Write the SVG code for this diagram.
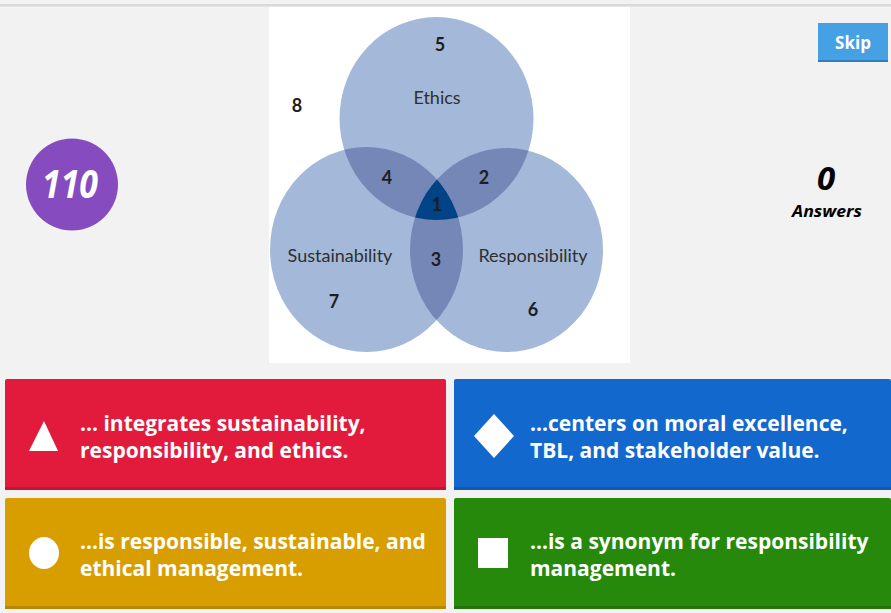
<svg xmlns="http://www.w3.org/2000/svg" width="891" height="613" viewBox="0 0 891 613">
<defs>
<style>
.num{font-family:"Lato","Open Sans",sans-serif;font-weight:bold;font-size:18px;fill:#1e1e1e;text-anchor:middle}
.lbl{font-family:"Lato","Open Sans",sans-serif;font-size:18px;fill:#2f2f2f;text-anchor:middle}
.ans{font-family:"Open Sans","Noto Sans",sans-serif;font-weight:bold;font-size:21px;fill:#fff}
.single{fill:#a4b9d9}
.pair{fill:#7587b6}
</style>
<clipPath id="cE"><ellipse cx="436.5" cy="118.5" rx="97" ry="101.5"/></clipPath>
<clipPath id="cS"><ellipse cx="366.5" cy="249.5" rx="96.5" ry="102.5"/></clipPath>
<clipPath id="cR"><ellipse cx="506.5" cy="250" rx="96.5" ry="102"/></clipPath>
</defs>
<rect width="891" height="613" fill="#f2f2f2"/>
<rect x="0" y="4" width="891" height="2.5" fill="#d9d9d9"/>
<rect x="269" y="7" width="361" height="356" fill="#ffffff"/>
<g id="venn">
<ellipse class="single" cx="436.5" cy="118.5" rx="97" ry="101.5"/>
<ellipse class="single" cx="366.5" cy="249.5" rx="96.5" ry="102.5"/>
<ellipse class="single" cx="506.5" cy="250" rx="96.5" ry="102"/>
<ellipse class="pair" cx="366.5" cy="249.5" rx="96.5" ry="102.5" clip-path="url(#cE)"/>
<ellipse class="pair" cx="506.5" cy="250" rx="96.5" ry="102" clip-path="url(#cE)"/>
<ellipse class="pair" cx="506.5" cy="250" rx="96.5" ry="102" clip-path="url(#cS)"/>
<g clip-path="url(#cE)"><ellipse cx="506.5" cy="250" rx="96.5" ry="102" fill="#004386" clip-path="url(#cS)"/></g>
</g>
<g id="venn-labels">
<text class="num" x="440" y="51">5</text>
<text class="num" x="297" y="112">8</text>
<text class="lbl" x="437" y="104">Ethics</text>
<text class="num" x="387" y="184">4</text>
<text class="num" x="484" y="184">2</text>
<text class="num" x="437" y="211">1</text>
<text class="lbl" x="340" y="262">Sustainability</text>
<text class="num" x="436" y="266">3</text>
<text class="lbl" x="533" y="262">Responsibility</text>
<text class="num" x="334" y="308">7</text>
<text class="num" x="533" y="316">6</text>
</g>
<g id="counter">
<circle cx="72" cy="184.5" r="46" fill="#864cbf"/>
<text x="70" y="198" font-family="'Noto Sans',sans-serif" font-weight="bold" font-style="italic" font-size="40" fill="#fff" text-anchor="middle" textLength="56" lengthAdjust="spacingAndGlyphs">110</text>
</g>
<g id="skip">
<rect x="818" y="23" width="70" height="39" fill="#46a0e4"/>
<rect x="818" y="60" width="70" height="2" fill="#2f7fbf"/>
<text x="853" y="49" font-family="'Open Sans',sans-serif" font-weight="bold" font-size="17" fill="#fff" text-anchor="middle">Skip</text>
</g>
<g id="answers-count">
<text x="826" y="190" font-family="'Noto Sans',sans-serif" font-weight="bold" font-style="italic" font-size="33" fill="#000" text-anchor="middle">0</text>
<text x="827" y="217" font-family="'Noto Sans',sans-serif" font-weight="bold" font-style="italic" font-size="16" fill="#000" text-anchor="middle" textLength="70" lengthAdjust="spacingAndGlyphs">Answers</text>
</g>
<g id="answer-red">
<rect x="5" y="379" width="441" height="111" rx="2" fill="#e21b3c"/>
<rect x="5" y="487" width="441" height="3" fill="#c01833"/>
<polygon points="44,421 58,451 29,451" fill="#fff"/>
<text class="ans" x="80" y="431">... integrates sustainability,</text>
<text class="ans" x="80" y="458">responsibility, and ethics.</text>
</g>
<g id="answer-blue">
<rect x="454" y="379" width="437" height="111" rx="2" fill="#1368ce"/>
<rect x="454" y="487" width="437" height="3" fill="#1059af"/>
<polygon points="494,414 514,436 494,458 474,436" fill="#fff"/>
<text class="ans" x="530" y="431">...centers on moral excellence,</text>
<text class="ans" x="530" y="458">TBL, and stakeholder value.</text>
</g>
<g id="answer-yellow">
<rect x="5" y="498" width="441" height="111" rx="2" fill="#d89e00"/>
<rect x="5" y="606" width="441" height="3" fill="#b88600"/>
<ellipse cx="44" cy="553" rx="15" ry="16" fill="#fff"/>
<text class="ans" x="80" y="549">...is responsible, sustainable, and</text>
<text class="ans" x="80" y="576">ethical management.</text>
</g>
<g id="answer-green">
<rect x="454" y="498" width="437" height="111" rx="2" fill="#26890c"/>
<rect x="454" y="606" width="437" height="3" fill="#20740a"/>
<rect x="478" y="538" width="30" height="30" fill="#fff"/>
<text class="ans" x="530" y="549">...is a synonym for responsibility</text>
<text class="ans" x="530" y="576">management.</text>
</g>
</svg>
